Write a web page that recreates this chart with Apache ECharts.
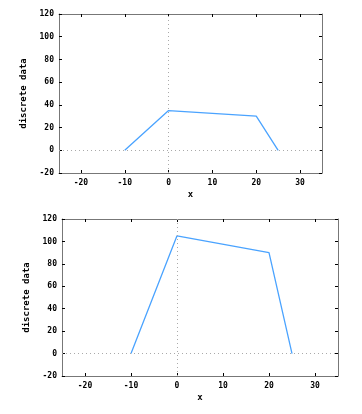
<!DOCTYPE html>
<html><head><meta charset="utf-8">
<script src="https://cdn.jsdelivr.net/npm/echarts@6/dist/echarts.min.js"></script>
<style>html,body{margin:0;padding:0;background:#fff}#c{width:362px;height:414px}</style>
</head><body><div id="c"></div>
<script>
const xTicks = [-20, -10, 0, 10, 20, 30];
const topX = [-10, 0, 20, 25];
const topY = [0, 35, 30, 0];
const botX = [-10, 0, 20, 25];
const botY = [0, 105, 90, 0];
const xName = 'x';
const yName = 'discrete data';

const font = {fontFamily: 'DejaVu Sans Mono', fontWeight: 'bold', fontSize: 8, color: '#000'};
const frameColor = '#777777';
const lineColor = '#4aa3ff';

function xAx(grid, pos, showLabel) {
  return {
    type: 'value', gridIndex: grid, position: pos, min: -25, max: 35,
    name: showLabel ? xName : '', nameLocation: 'middle', nameGap: 17,
    nameTextStyle: Object.assign({}, font, {fontSize: 9}),
    axisLine: {show: true, onZero: false, lineStyle: {color: frameColor, width: 1}},
    axisTick: {show: true, inside: true, length: 3, customValues: xTicks, lineStyle: {color: '#000'}},
    axisLabel: {show: showLabel, customValues: xTicks, margin: 6, ...font},
    splitLine: {show: false}
  };
}
function yAx(grid, pos, showLabel, gap) {
  return {
    type: 'value', gridIndex: grid, position: pos, min: -20, max: 120, interval: 20,
    name: showLabel ? yName : '', nameLocation: 'middle', nameGap: gap, nameRotate: 90,
    nameTextStyle: Object.assign({}, font, {fontSize: 9}),
    axisLine: {show: true, onZero: false, lineStyle: {color: frameColor, width: 1}},
    axisTick: {show: true, inside: true, length: 3, lineStyle: {color: '#000'}},
    axisLabel: {show: showLabel, margin: 5, ...font},
    splitLine: {show: false}
  };
}
function ser(xi, yi, xs, ys) {
  return {
    type: 'line', xAxisIndex: xi, yAxisIndex: yi,
    data: xs.map((x, i) => [x, ys[i]]),
    symbol: 'none', lineStyle: {color: lineColor, width: 1.3},
    silent: true, animation: false,
    markLine: {
      silent: true, symbol: 'none', animation: false, label: {show: false},
      lineStyle: {color: '#aaaaaa', type: [1, 3], width: 1},
      data: [{xAxis: 0}, {yAxis: 0}]
    }
  };
}
const chart = echarts.init(document.getElementById('c'));
chart.setOption({
  animation: false,
  grid: [
    {left: 59, top: 14, width: 263, height: 159},
    {left: 62, top: 219, width: 276, height: 157}
  ],
  xAxis: [xAx(0, 'bottom', true), xAx(0, 'top', false), xAx(1, 'bottom', true), xAx(1, 'top', false)],
  yAxis: [yAx(0, 'left', true, 25), yAx(0, 'right', false, 25), yAx(1, 'left', true, 28), yAx(1, 'right', false, 28)],
  series: [ser(0, 0, topX, topY), ser(2, 2, botX, botY)]
});
</script></body></html>
